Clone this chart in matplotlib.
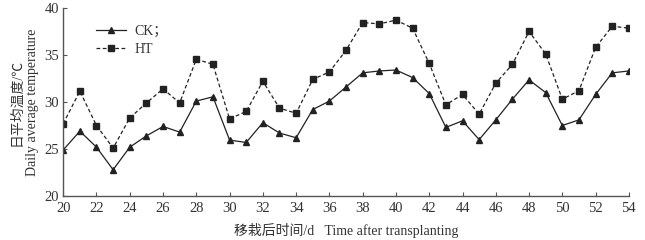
import numpy as np
import matplotlib
matplotlib.use("Agg")
import matplotlib.pyplot as plt

# =========================
# DATA
# =========================
days = list(range(20, 55))

ck = [24.9, 26.9, 25.2, 22.8, 25.2, 26.4, 27.4, 26.8, 30.1, 30.55,
      25.95, 25.7, 27.8, 26.7, 26.2, 29.2, 30.1, 31.6, 33.1, 33.3,
      33.4, 32.6, 30.9, 27.3, 28.0, 26.0, 28.1, 30.3, 32.35, 31.0,
      27.5, 28.1, 30.8, 33.1, 33.3]

ht = [27.7, 31.15, 27.5, 25.1, 28.3, 29.9, 31.4, 29.9, 34.55, 34.0,
      28.2, 29.0, 32.2, 29.35, 28.8, 32.4, 33.2, 35.5, 38.45, 38.3,
      38.7, 37.85, 34.1, 29.7, 30.8, 28.7, 32.0, 34.0, 37.5, 35.1,
      30.3, 31.2, 35.8, 38.05, 37.85]

x_ticks = list(range(20, 56, 2))
y_ticks = [20, 25, 30, 35, 40]

# =========================
# STYLE
# =========================
plt.rcParams["font.family"] = ["Liberation Serif", "Noto Sans CJK SC", "DejaVu Sans"]
plt.rcParams["font.size"] = 10

LINE_COLOR = "#222222"
TEXT_COLOR = "#333333"


def main():
    fig = plt.figure(figsize=(6.45, 2.4), dpi=100)
    ax = fig.add_axes([0.098, 0.183, 0.877, 0.784])

    ax.plot(days, ck, color=LINE_COLOR, linestyle="-", linewidth=0.9,
            marker="^", markersize=5, label="CK；")
    ax.plot(days, ht, color=LINE_COLOR, linestyle=(0, (3, 2)), linewidth=0.9,
            marker="s", markersize=5, label="HT")

    ax.set_xlim(20, 54)
    ax.set_ylim(20, 40)
    ax.set_xticks(x_ticks)
    ax.set_yticks(y_ticks)

    for side in ["top", "right"]:
        ax.spines[side].set_visible(False)
    for side in ["left", "bottom"]:
        ax.spines[side].set_color("#555555")
        ax.spines[side].set_linewidth(1.0)

    ax.tick_params(direction="in", length=3, width=0.8, colors="#555555",
                   labelcolor=TEXT_COLOR, labelsize=10.5)
    ax.tick_params(axis="x", pad=4)
    ax.tick_params(axis="y", pad=3)

    ax.set_xlabel("移栽后时间/d   Time after transplanting",
                  color=TEXT_COLOR, fontsize=10, labelpad=6)
    ax.set_ylabel("日平均温度/℃\nDaily average temperature",
                  color=TEXT_COLOR, fontsize=10, labelpad=4, linespacing=1.2)

    leg = ax.legend(loc="upper left", bbox_to_anchor=(0.035, 0.975), frameon=False,
                    handlelength=2.2, handletextpad=0.6, labelspacing=0.35,
                    fontsize=10)
    for t in leg.get_texts():
        t.set_color(TEXT_COLOR)

    fig.savefig("out.png", dpi=100)
    plt.close(fig)


if __name__ == "__main__":
    main()
